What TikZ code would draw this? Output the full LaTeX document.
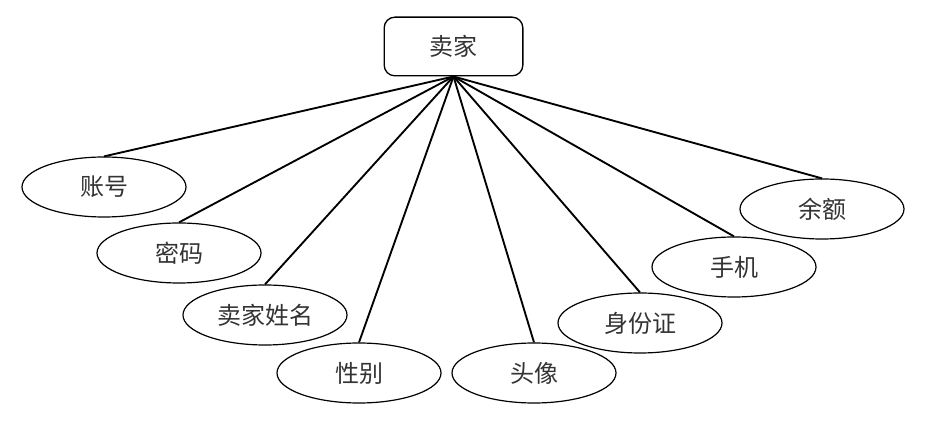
\documentclass[tikz,border=0pt]{standalone}
\usepackage{fontspec}
\newfontfamily\cjk{Noto Sans CJK SC}
\usepackage{tikz}
\usetikzlibrary{shapes}
\tikzstyle{ent} = [rectangle, draw, line width=1pt, rounded corners=8pt,
    minimum width=104pt, minimum height=44pt, text=black!80,
    font=\cjk\fontsize{18}{20}\selectfont]
\tikzstyle{attr} = [ellipse, draw, line width=0.9pt, inner sep=0pt,
    minimum width=123pt, minimum height=45pt, text=black!80,
    font=\cjk\fontsize{18}{20}\selectfont]

\begin{document}
\begin{tikzpicture}[x=0.75pt,y=-0.75pt,line width=1.4pt]
  \useasboundingbox (0,0) rectangle (927,423);

  \node[ent]  (0) at (453.5,46.5) {卖家};
  \node[attr] (1) at (104,187) {账号};
  \node[attr] (2) at (179,253) {密码};
  \node[attr] (3) at (265,315) {卖家姓名};
  \node[attr] (4) at (359,373) {性别};
  \node[attr] (5) at (534,373) {头像};
  \node[attr] (6) at (640,323) {身份证};
  \node[attr] (7) at (734,267) {手机};
  \node[attr] (8) at (822,209) {余额};

  \foreach \i in {1,...,8}
    \draw (0.south) -- (\i.north);
\end{tikzpicture}
\end{document}
